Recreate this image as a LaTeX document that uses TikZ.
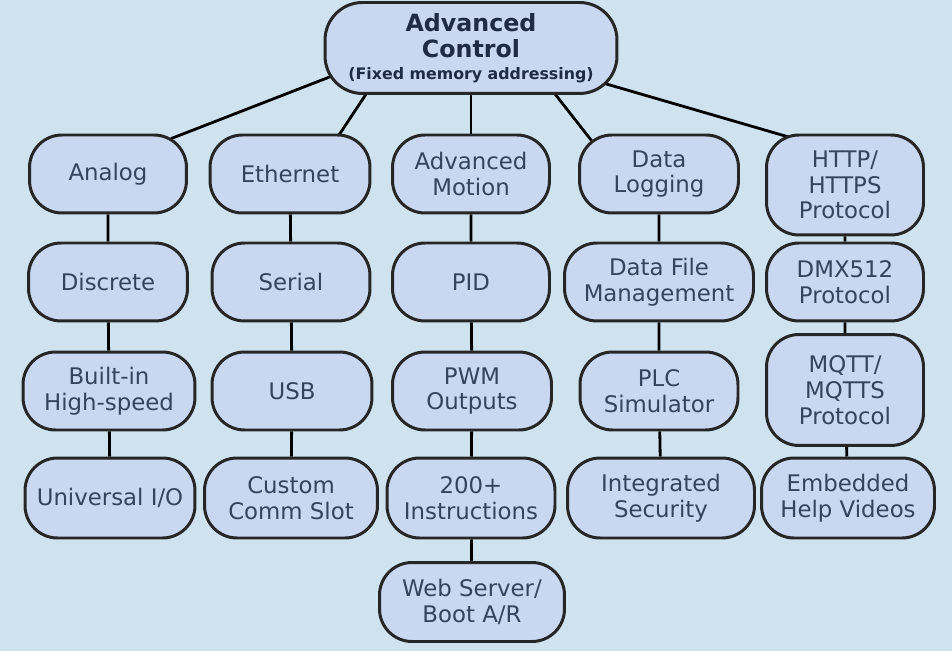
\documentclass[tikz,border=0pt]{standalone}
\usepackage{fontspec}
\setmainfont{DejaVu Sans}
\usetikzlibrary{backgrounds}

\definecolor{hgblau}{HTML}{CFE3EF}
\definecolor{kastenblau}{HTML}{C9D7F0}
\definecolor{textblau}{HTML}{36435E}
\definecolor{titelblau}{HTML}{1F2A44}

\begin{document}
\begin{tikzpicture}[x=0.02cm,y=-0.02cm,
kasten/.style={draw=black!85, line width=1.7pt, fill=kastenblau, rounded corners=0.65cm, text=textblau, align=center, inner sep=1pt, minimum height=1.56cm, font=\fontsize{13}{14.7}\selectfont},
titel/.style={kasten, minimum width=5.84cm, minimum height=1.82cm, rounded corners=0.75cm, text=titelblau, font=\fontsize{13.5}{15.3}\selectfont\bfseries},
linie/.style={line width=1.6pt, black},
]

\useasboundingbox (0,0) rectangle (952,651);

\node[titel] (ctrl) at (471,48) {Advanced\\Control\\[-3pt]{\fontsize{9}{11}\selectfont (Fixed memory addressing)}};

% Spalte 1
\node[kasten, minimum width=3.14cm] (analog) at (108,174) {Analog};
\node[kasten, minimum width=3.18cm] (discrete) at (108,282) {Discrete};
\node[kasten, minimum width=3.44cm] (builtin) at (109,391) {Built-in\\High-speed};
\node[kasten, minimum width=3.40cm, minimum height=1.6cm] (universal) at (110,498) {Universal I/O};

% Spalte 2
\node[kasten, minimum width=3.20cm] (ethernet) at (290,174) {Ethernet};
\node[kasten, minimum width=3.16cm] (serial) at (291,282) {Serial};
\node[kasten, minimum width=3.20cm] (usb) at (292,391) {USB};
\node[kasten, minimum width=3.46cm, minimum height=1.6cm] (custom) at (291,498) {Custom\\Comm Slot};

% Spalte 3
\node[kasten, minimum width=3.14cm] (motion) at (471,174) {Advanced\\Motion};
\node[kasten, minimum width=3.14cm] (pid) at (471,282) {PID};
\node[kasten, minimum width=3.18cm] (pwm) at (472,391) {PWM\\Outputs};
\node[kasten, minimum width=3.36cm, minimum height=1.6cm] (instr) at (471,498) {200+\\Instructions};
\node[kasten, minimum width=3.70cm, minimum height=1.58cm] (webserver) at (472,602) {Web Server/\\Boot A/R};

% Spalte 4
\node[kasten, minimum width=3.18cm] (logging) at (659,174) {Data\\Logging};
\node[kasten, minimum width=3.78cm] (datafile) at (659,282) {Data File\\Management};
\node[kasten, minimum width=3.16cm] (plcsim) at (659,391) {PLC\\Simulator};
\node[kasten, minimum width=3.74cm, minimum height=1.6cm] (security) at (661,498) {Integrated\\Security};

% Spalte 5
\node[kasten, minimum width=3.14cm, minimum height=2.0cm] (http) at (845,185) {HTTP/\\HTTPS\\Protocol};
\node[kasten, minimum width=3.14cm] (dmx) at (845,282) {DMX512\\Protocol};
\node[kasten, minimum width=3.14cm, minimum height=2.22cm] (mqtt) at (845,390) {MQTT/\\MQTTS\\Protocol};
\node[kasten, minimum width=3.46cm, minimum height=1.6cm] (embedded) at (848,498) {Embedded\\Help Videos};

\begin{scope}[on background layer]
\fill[hgblau] (0,0) rectangle (952,651);

\draw[linie, shorten <=-8pt, shorten >=-8pt] (ctrl.192) -- (analog.28);
\draw[linie, shorten <=-8pt, shorten >=-8pt] (ctrl.204) -- (ethernet.39);
\draw[linie] (ctrl) -- (motion);
\draw[linie, shorten <=-8pt, shorten >=-8pt] (ctrl.331) -- (logging.151);
\draw[linie, shorten <=-8pt, shorten >=-8pt] (ctrl.345) -- (http.143);

\draw[linie] (analog) -- (discrete) -- (builtin) -- (universal);
\draw[linie] (ethernet) -- (serial) -- (usb) -- (custom);
\draw[linie] (motion) -- (pid) -- (pwm) -- (instr) -- (webserver);
\draw[linie] (logging) -- (datafile) -- (plcsim) -- (security);
\draw[linie] (http) -- (dmx) -- (mqtt) -- (embedded);
\end{scope}

\end{tikzpicture}
\end{document}
